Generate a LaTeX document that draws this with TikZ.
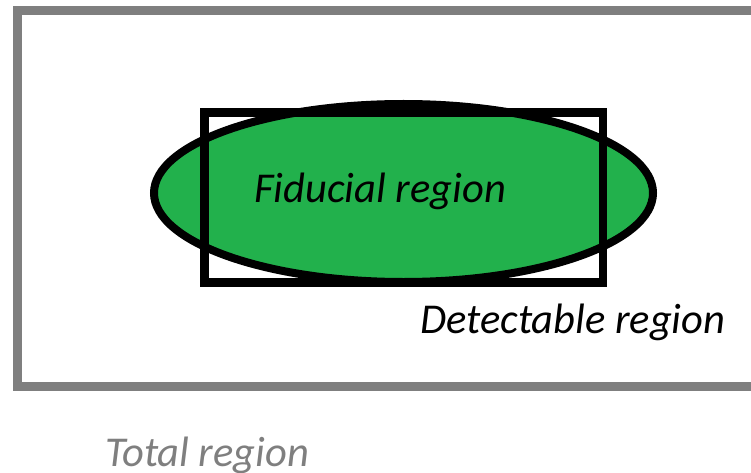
\documentclass[tikz,border=0pt]{standalone}
\usepackage{fontspec}
\setmainfont{Carlito}
\usetikzlibrary{shapes.geometric}
\definecolor{paintgreen}{HTML}{22B14C}
\definecolor{framegray}{HTML}{7F7F7F}
\tikzset{
  x=1pt, y=-1pt,
  label text/.style={font=\fontsize{42.5}{42.5}\selectfont\itshape, inner sep=0pt, anchor=base west},
  frame box/.style={draw=framegray, line width=9pt},
  detect box/.style={draw=black, line width=8.5pt, minimum width=398.5pt, minimum height=170pt, inner sep=0pt},
  fiducial/.style={ellipse, draw=black, fill=paintgreen, line width=8pt, minimum width=499pt, minimum height=178pt, inner sep=0pt}
}
\begin{document}
\begin{tikzpicture}
  \useasboundingbox (0,0) rectangle (751,473);
  \clip (0,0) rectangle (751,473);
  % total region frame (runs past the right edge)
  \draw[frame box] (17.5,10.5) rectangle (780,386);
  % fiducial ellipse under the detectable box
  \node[fiducial] (fid) at (403.5,193) {};
  \node[detect box] (det) at (403.75,197.5) {};
  % labels
  \node[label text] (fidtext) at (254,202) {Fiducial region};
  \node[label text] (dettext) at (420,333) {Detectable region};
  \node[label text, text=framegray] (tottext) at (105,466) {Total region};
\end{tikzpicture}
\end{document}
